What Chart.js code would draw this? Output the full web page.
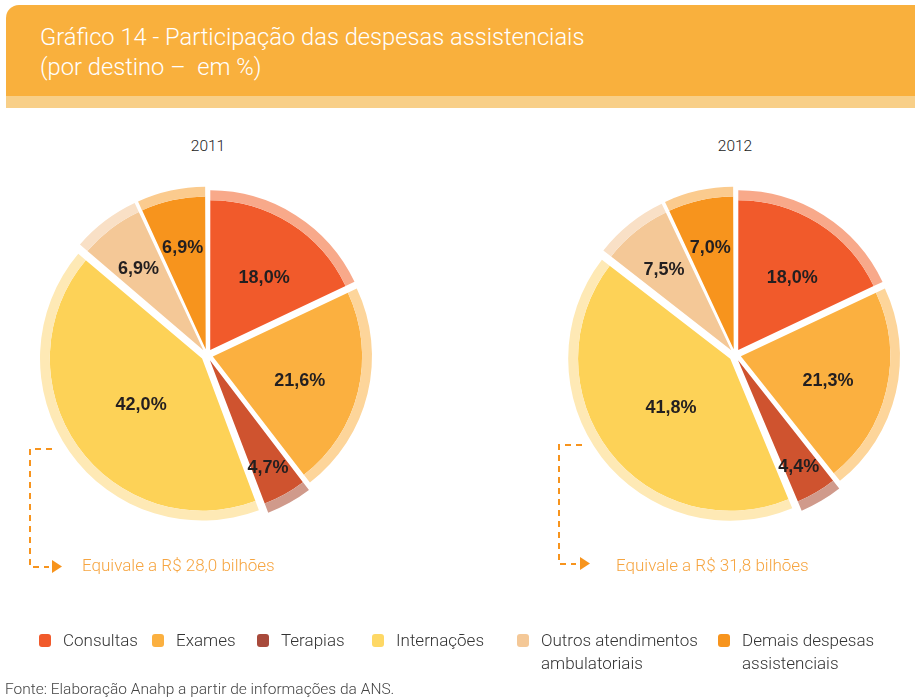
<!DOCTYPE html>
<html>
<head>
<meta charset="utf-8">
<script src="https://cdn.jsdelivr.net/npm/chart.js@4/dist/chart.umd.min.js"></script>
<style>
  body { margin:0; background:#fff; width:915px; height:699px; position:relative; overflow:hidden;
         font-family: Roboto, "Liberation Sans", sans-serif; }
  .header { position:absolute; left:6px; top:5px; width:909px; height:91px; background:#F9B03D;
            border-top-left-radius:13px; }
  .strip { position:absolute; left:6px; top:96px; width:909px; height:12px; background:#F8CF88; }
  .title { position:absolute; left:40px; color:#fff; font-size:23.7px; font-weight:300; white-space:nowrap; }
  .year { position:absolute; top:137px; width:120px; text-align:center; font-size:15.5px; color:#222; font-weight:300; }
  canvas.pie { position:absolute; top:165px; }
  .equiv { position:absolute; font-size:17px; font-weight:300; color:#F6A541; white-space:nowrap; }
  .leg { position:absolute; top:629px; font-size:17px; font-weight:300; color:#333; line-height:23px; }
  .leg i { position:absolute; left:0; top:5px; width:12px; height:13px; border-radius:3px; }
  .leg span { position:absolute; left:24px; top:0; white-space:nowrap; }
  .fonte { position:absolute; left:5px; top:680px; font-size:15.5px; font-weight:300; color:#444; white-space:nowrap; }
  svg { position:absolute; left:0; top:0; }
</style>
</head>
<body>
<div class="header"></div>
<div class="strip"></div>
<div class="title" style="top:23px">Gráfico 14 - Participação das despesas assistenciais</div>
<div class="title" style="top:53px">(por destino –&nbsp; em %)</div>

<div class="year" style="left:148px">2011</div>
<div class="year" style="left:675px">2012</div>

<canvas id="pie2011" class="pie" width="380" height="380" style="left:17px"></canvas>
<canvas id="pie2012" class="pie" width="380" height="380" style="left:545px"></canvas>

<svg width="915" height="699">
  <g fill="none" stroke="#F7941D" stroke-width="2" stroke-dasharray="6,5">
    <path d="M52,449 H30 V567 H49"/>
    <path d="M582,445 H559 V564 H576"/>
  </g>
  <g fill="#F7941D">
    <path d="M52,560 L62,566.5 L52,573 Z"/>
    <path d="M580,557 L590,563.5 L580,570 Z"/>
  </g>
</svg>
<div class="equiv" style="left:82px; top:555px">Equivale a R$ 28,0 bilhões</div>
<div class="equiv" style="left:616px; top:555px">Equivale a R$ 31,8 bilhões</div>

<div id="legend"></div>
<div class="fonte">Fonte: Elaboração Anahp a partir de informações da ANS.</div>

<script>
// categorias e valores (%)
const categories = ['Consultas', 'Exames', 'Terapias', 'Internações',
  ['Outros atendimentos', 'ambulatoriais'], ['Demais despesas', 'assistenciais']];
const values2011 = [18.0, 21.6, 4.7, 42.0, 6.9, 6.9];
const values2012 = [18.0, 21.3, 4.4, 41.8, 7.5, 7.0];

// cores
const sliceColors = ['#F15A2B', '#FBB040', '#CF532F', '#FDD257', '#F4C897', '#F7941D'];
const ringColors = ['#F8A98A', '#FDD59A', '#D09A8B', '#FEE9B5', '#F9E0C6', '#FBCB8E'];
const legendColors = ['#F15A2B', '#FBB040', '#A84A3B', '#FED865', '#F4C897', '#F7941D'];
const legendX = [39, 152, 257, 372, 517, 718];

const EXPLODE = 24; // Chart.js desloca offset/4 px

// rotulos de porcentagem dentro das fatias
const pctLabels = {
  id: 'pctLabels',
  afterDatasetsDraw(chart) {
    const meta = chart.getDatasetMeta(1);
    const data = chart.data.datasets[1].data;
    const ctx = chart.ctx;
    ctx.save();
    ctx.font = 'bold 18px "Liberation Sans", Arial, sans-serif';
    ctx.fillStyle = '#231F20';
    ctx.textAlign = 'center';
    ctx.textBaseline = 'middle';
    meta.data.forEach((arc, i) => {
      const p = arc.getProps(['x', 'y', 'startAngle', 'endAngle', 'outerRadius']);
      const mid = (p.startAngle + p.endAngle) / 2;
      const v = data[i];
      const f = v < 5 ? 0.8 : v < 10 ? 0.72 : v > 30 ? 0.5 : 0.6;
      const r = p.outerRadius * f + EXPLODE / 4;
      const x = p.x + Math.cos(mid) * r + (v > 10 && v < 20 ? 6 : 0);
      ctx.fillText(v.toFixed(1).replace('.', ',') + '%', x, p.y + Math.sin(mid) * r + 4);
    });
    ctx.restore();
  }
};

function drawPie(id, values) {
  new Chart(document.getElementById(id).getContext('2d'), {
    type: 'pie',
    data: {
      labels: categories,
      datasets: [
        { data: values, backgroundColor: ringColors, borderWidth: 0, offset: EXPLODE, weight: 0.066 },
        { data: values, backgroundColor: sliceColors, borderWidth: 0, offset: EXPLODE, weight: 1 }
      ]
    },
    options: {
      responsive: false,
      animation: false,
      events: [],
      radius: 159,
      plugins: { legend: { display: false }, tooltip: { enabled: false } }
    },
    plugins: [pctLabels]
  });
}

drawPie('pie2011', values2011);
drawPie('pie2012', values2012);

// legenda
const leg = document.getElementById('legend');
categories.forEach((c, i) => {
  const d = document.createElement('div');
  d.className = 'leg';
  d.style.left = legendX[i] + 'px';
  const txt = Array.isArray(c) ? c.join('<br>') : c;
  d.innerHTML = `<i style="background:${legendColors[i]}"></i><span>${txt}</span>`;
  leg.appendChild(d);
});
</script>
</body>
</html>
